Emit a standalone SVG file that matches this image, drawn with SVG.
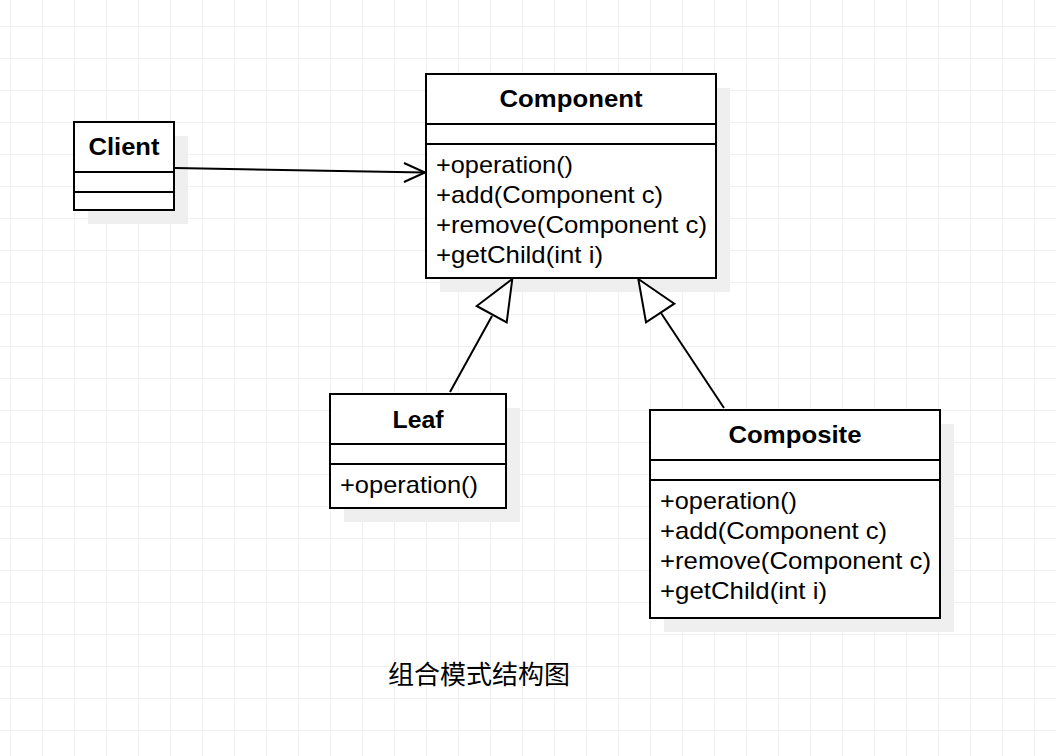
<svg xmlns="http://www.w3.org/2000/svg" width="1056" height="756" viewBox="0 0 1056 756">
  <defs>
    <pattern id="grid" x="10" y="26" width="32" height="32" patternUnits="userSpaceOnUse">
      <path d="M0 0H32M0 0V32" fill="none" stroke="#f0f0f0" stroke-width="2"/>
    </pattern>
  </defs>
  <style>
    .shadow { fill: #efefef; stroke: none; }
    .box { fill: #ffffff; stroke: #000000; stroke-width: 2; }
    .div { stroke: #000000; stroke-width: 2; fill: none; }
    .title { font-family: "Liberation Sans", Arial, sans-serif; font-size: 24px; font-weight: bold; fill: #000; text-anchor: middle; }
    .member { font-family: "Liberation Sans", Arial, sans-serif; font-size: 24px; fill: #000; }
    .conn { stroke: #000000; stroke-width: 2; fill: none; }
    .tri { stroke: #000000; stroke-width: 2; fill: #ffffff; stroke-linejoin: miter; }
    .caption { font-family: "Liberation Sans", "Noto Sans CJK SC", sans-serif; font-size: 26px; fill: #000; }
  </style>
  <rect width="1056" height="756" fill="#ffffff"/>
  <rect width="1056" height="756" fill="url(#grid)"/>

  <g id="client">
    <rect class="shadow" x="88" y="136" width="100" height="88"/>
    <rect class="box" x="74" y="122" width="100" height="88"/>
    <line class="div" x1="74" y1="172" x2="174" y2="172"/>
    <line class="div" x1="74" y1="192" x2="174" y2="192"/>
    <text class="title" x="124" y="155" textLength="71" lengthAdjust="spacingAndGlyphs">Client</text>
  </g>

  <g id="component">
    <rect class="shadow" x="440" y="88" width="290" height="204"/>
    <rect class="box" x="426" y="74" width="290" height="204"/>
    <line class="div" x1="426" y1="124" x2="716" y2="124"/>
    <line class="div" x1="426" y1="144" x2="716" y2="144"/>
    <text class="title" x="571" y="107" textLength="143" lengthAdjust="spacingAndGlyphs">Component</text>
    <text class="member" x="436" y="173" textLength="137" lengthAdjust="spacingAndGlyphs">+operation()</text>
    <text class="member" x="436" y="203" textLength="227" lengthAdjust="spacingAndGlyphs">+add(Component c)</text>
    <text class="member" x="436" y="233" textLength="271" lengthAdjust="spacingAndGlyphs">+remove(Component c)</text>
    <text class="member" x="436" y="263" textLength="167" lengthAdjust="spacingAndGlyphs">+getChild(int i)</text>
  </g>

  <g id="leaf">
    <rect class="shadow" x="344" y="408" width="176" height="114"/>
    <rect class="box" x="330" y="394" width="176" height="114"/>
    <line class="div" x1="330" y1="444" x2="506" y2="444"/>
    <line class="div" x1="330" y1="464" x2="506" y2="464"/>
    <text class="title" x="418" y="428" textLength="51" lengthAdjust="spacingAndGlyphs">Leaf</text>
    <text class="member" x="340" y="493" textLength="138" lengthAdjust="spacingAndGlyphs">+operation()</text>
  </g>

  <g id="composite">
    <rect class="shadow" x="664" y="424" width="290" height="208"/>
    <rect class="box" x="650" y="410" width="290" height="208"/>
    <line class="div" x1="650" y1="460" x2="940" y2="460"/>
    <line class="div" x1="650" y1="480" x2="940" y2="480"/>
    <text class="title" x="795" y="443" textLength="133" lengthAdjust="spacingAndGlyphs">Composite</text>
    <text class="member" x="660" y="509" textLength="137" lengthAdjust="spacingAndGlyphs">+operation()</text>
    <text class="member" x="660" y="539" textLength="227" lengthAdjust="spacingAndGlyphs">+add(Component c)</text>
    <text class="member" x="660" y="569" textLength="271" lengthAdjust="spacingAndGlyphs">+remove(Component c)</text>
    <text class="member" x="660" y="599" textLength="167" lengthAdjust="spacingAndGlyphs">+getChild(int i)</text>
  </g>

  <g id="connectors">
    <line class="conn" x1="175" y1="168" x2="425" y2="172.5"/>
    <polyline class="conn" points="404,163 425,172.5 404,182"/>
    <line class="conn" x1="492" y1="316" x2="450" y2="392"/>
    <polygon class="tri" points="512.3,279 476.7,306 506.7,322.3"/>
    <line class="conn" x1="661" y1="313" x2="724" y2="408"/>
    <polygon class="tri" points="638.3,279 674.3,303.7 646,322.3"/>
  </g>

  <text class="caption" x="388" y="684">组合模式结构图</text>
</svg>
